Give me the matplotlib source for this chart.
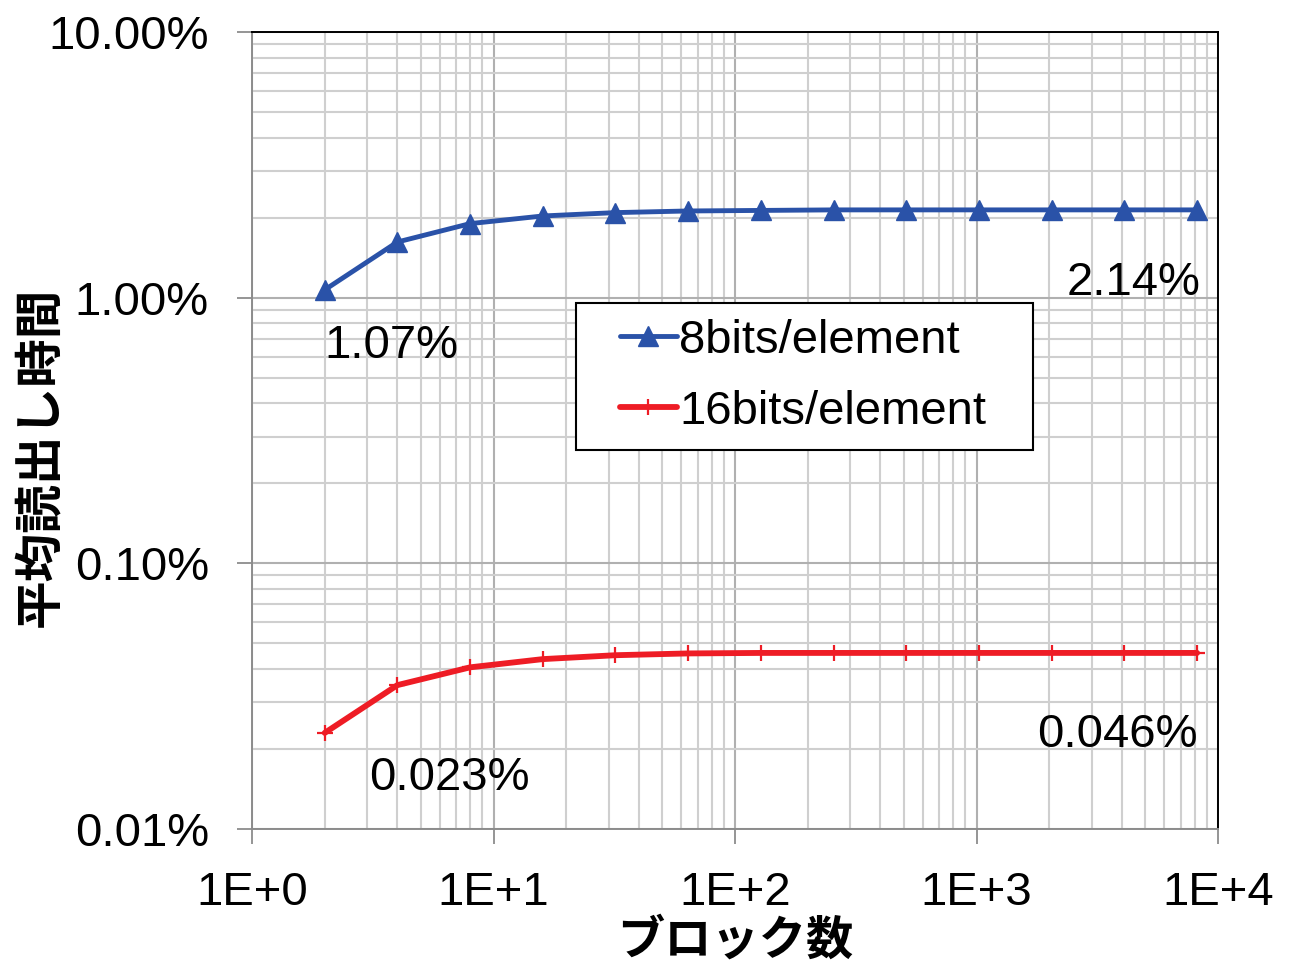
import numpy as np
import matplotlib
matplotlib.use("Agg")
import matplotlib.pyplot as plt
from matplotlib.ticker import LogLocator, FuncFormatter, NullFormatter
from matplotlib.legend_handler import HandlerLine2D

plt.rcParams['font.family'] = ['Liberation Sans', 'Noto Sans CJK JP', 'DejaVu Sans']

# Block counts and average read time (%)
blocks = [2, 4, 8, 16, 32, 64, 128, 256, 512, 1024, 2048, 4096, 8192]
read_8bit = [1.07, 1.62, 1.90, 2.03, 2.09, 2.12, 2.13, 2.14, 2.14, 2.14, 2.14, 2.14, 2.14]
read_16bit = [0.023, 0.0348, 0.0406, 0.0436, 0.0451, 0.0458, 0.046, 0.046, 0.046,
              0.046, 0.046, 0.046, 0.046]
series_names = ['8bits/element', '16bits/element']
x_label = 'ブロック数'
y_label = '平均読出し時間'

BLUE = '#2a52a8'
RED = '#ee1c25'
FS = 34

fig = plt.figure(figsize=(12.95, 9.67), dpi=100)
ax = fig.add_axes([252/1295, 1-829/967, (1218-252)/1295, (829-32)/967])

ax.plot(blocks, read_8bit, color=BLUE, lw=3.5, marker='^', ms=14, mec=BLUE, mfc=BLUE,
        label=series_names[0], zorder=4, solid_capstyle='round')
ax.plot(blocks, read_16bit, color=RED, lw=4.2, marker='+', ms=11, mew=1.6, mec=RED,
        label=series_names[1], zorder=4, solid_capstyle='round')

ax.set_xscale('log')
ax.set_yscale('log')
ax.set_xlim(1, 1e4)
ax.set_ylim(0.01, 10)

ax.xaxis.set_major_locator(LogLocator(base=10, numticks=10))
ax.xaxis.set_minor_locator(LogLocator(base=10, subs=np.arange(2, 10), numticks=100))
ax.yaxis.set_major_locator(LogLocator(base=10, numticks=10))
ax.yaxis.set_minor_locator(LogLocator(base=10, subs=np.arange(2, 10), numticks=100))
ax.xaxis.set_major_formatter(FuncFormatter(lambda v, p: f"1E+{int(round(np.log10(v)))}"))
ax.yaxis.set_major_formatter(FuncFormatter(lambda v, p: f"{v:.2f}%"))
ax.xaxis.set_minor_formatter(NullFormatter())
ax.yaxis.set_minor_formatter(NullFormatter())

ax.grid(True, which='minor', color='#cfcfcf', lw=1.5, zorder=0)
ax.grid(True, which='major', color='#b0b0b0', lw=1.5, zorder=0)
ax.set_axisbelow(True)

ax.tick_params(which='major', length=11, width=1.3, color='#8c8c8c', labelsize=FS,
               direction='out')
ax.tick_params(axis='y', which='major', pad=20)
ax.tick_params(axis='x', which='major', pad=19)
ax.tick_params(which='minor', length=0)

for side in ('left', 'bottom'):
    ax.spines[side].set_color('#8c8c8c')
    ax.spines[side].set_linewidth(1.4)
for side in ('top', 'right'):
    ax.spines[side].set_color('black')
    ax.spines[side].set_linewidth(1.4)

# Value annotations at the first and last points
ax.annotate(f"{read_8bit[0]:.2f}%", xy=(blocks[0], read_8bit[0]), xytext=(0, -56),
            textcoords='offset pixels', ha='left', va='center', fontsize=FS)
ax.annotate(f"{read_8bit[-1]:.2f}%", xy=(blocks[-1], read_8bit[-1]), xytext=(3, -73),
            textcoords='offset pixels', ha='right', va='center', fontsize=FS)
ax.annotate(f"{read_16bit[0]:.3f}%", xy=(blocks[0], read_16bit[0]), xytext=(44, -45),
            textcoords='offset pixels', ha='left', va='center', fontsize=FS)
ax.annotate(f"{read_16bit[-1]:.3f}%", xy=(blocks[-1], read_16bit[-1]), xytext=(1, -82),
            textcoords='offset pixels', ha='right', va='center', fontsize=FS)

leg = ax.legend(loc='upper left',
                bbox_to_anchor=(576/1295, 1-445/967, 457/1295, 142/967),
                bbox_transform=fig.transFigure, mode='expand',
                fontsize=FS, frameon=True, fancybox=False,
                edgecolor='black', framealpha=1, handlelength=1.8, handletextpad=0.05,
                labelspacing=0.58, borderpad=0.33, borderaxespad=0,
                handler_map={ln: HandlerLine2D(xpad=0.6) for ln in ax.get_lines()})
leg.get_frame().set_linewidth(1.5)

fig.text(40/1295, 1-457/967, y_label, rotation=90, ha='center', va='center',
         fontsize=FS + 1, fontweight='bold', family=['Noto Sans CJK JP', 'DejaVu Sans'])
fig.text(735/1295, 1-941/967, x_label, ha='center', va='center',
         fontsize=FS, fontweight='bold', family=['Noto Sans CJK JP', 'DejaVu Sans'])

fig.savefig('out.png', dpi=100)
